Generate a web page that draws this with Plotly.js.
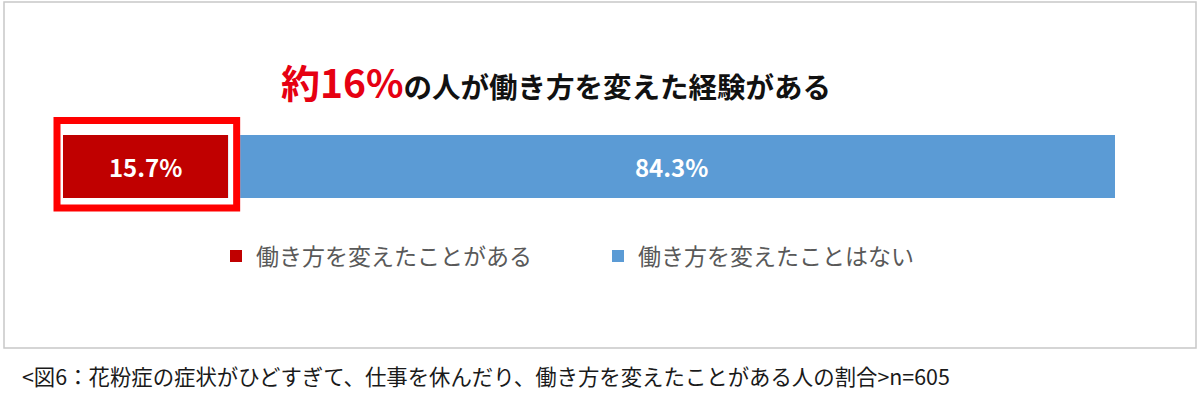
<!DOCTYPE html>
<html>
<head>
<meta charset="utf-8">
<script src="https://cdn.plot.ly/plotly-3.0.1.min.js"></script>
<style>
  body { margin: 0; background: #fff; }
</style>
</head>
<body>
<div id="graphDiv" style="width:1200px;height:404px;"></div>
<script>
// data *********************************************
const category = ['回答'];
const seriesNames = ['働き方を変えたことがある', '働き方を変えたことはない'];
const haveChanged = [15.7];
const neverChanged = [84.3];
const titleRed = '約16%';
const titleRest = 'の人が働き方を変えた経験がある';
const captionText = '<図6：花粉症の症状がひどすぎて、仕事を休んだり、働き方を変えたことがある人の割合>n=605';

const graphDiv = document.getElementById('graphDiv');
const jpFont = '"Noto Sans CJK JP", "Noto Sans", sans-serif';

// plot area goes from x=63 to x=1115 px, full height
const W = 1200, H = 404, L = 63, R = 85;
const plotW = W - L - R;
function px2x(p) { return (p - L) / plotW; }
function px2y(p) { return 1 - p / H; }

// red highlight box, tied to the end of the first bar
const redEnd = haveChanged[0] / 100;   // in paper units
const pxU = 1 / plotW;                 // one pixel in paper units

Plotly.newPlot(
  graphDiv,
  [
    {
      name: seriesNames[0],
      type: 'bar',
      orientation: 'h',
      x: haveChanged,
      y: category,
      marker: {color: '#c00000'},
      texttemplate: '%{x:.1f}%',
      textposition: 'inside',
      insidetextanchor: 'middle',
      textfont: {family: jpFont, size: 24, color: '#ffffff', weight: 'bold'},
      hoverinfo: 'skip'
    },
    {
      name: seriesNames[1],
      type: 'bar',
      orientation: 'h',
      x: neverChanged,
      y: category,
      marker: {color: '#5b9bd5'},
      texttemplate: '%{x:.1f}%',
      textposition: 'inside',
      insidetextanchor: 'middle',
      textfont: {family: jpFont, size: 24, color: '#ffffff', weight: 'bold'},
      hoverinfo: 'skip'
    }
  ],
  {
    width: W,
    height: H,
    margin: {l: L, r: R, t: 0, b: 0, pad: 0},
    paper_bgcolor: '#ffffff',
    plot_bgcolor: 'rgba(0,0,0,0)',
    barmode: 'stack',
    bargap: 0,
    font: {family: jpFont},
    title: {
      text: '<span style="color:#e60012;font-size:39px">' + titleRed + '</span>' + titleRest,
      font: {family: jpFont, size: 28.5, color: '#111111', weight: 'bold'},
      xref: 'container', yref: 'container',
      x: 556 / W, y: 1 - 88 / H,
      xanchor: 'center', yanchor: 'middle'
    },
    xaxis: {
      range: [0, 100],
      visible: false,
      fixedrange: true
    },
    yaxis: {
      domain: [px2y(198), px2y(135)],
      range: [-0.5, 0.5],
      visible: false,
      fixedrange: true
    },
    showlegend: true,
    legend: {
      orientation: 'h',
      x: px2x(216),
      y: px2y(256),
      xanchor: 'left',
      yanchor: 'middle',
      entrywidth: 337,
      traceorder: 'normal',
      font: {family: jpFont, size: 23, color: '#595959'},
      bgcolor: 'rgba(0,0,0,0)'
    },
    shapes: [
      // outer frame
      {
        type: 'rect', xref: 'paper', yref: 'paper',
        x0: px2x(4), x1: px2x(1196), y0: px2y(348), y1: px2y(2),
        line: {color: '#c8c8c8', width: 1.5},
        layer: 'below'
      },
      // white gap between the first bar and the highlight box
      {
        type: 'rect', xref: 'paper', yref: 'paper',
        x0: redEnd, x1: redEnd + 12 * pxU, y0: px2y(212), y1: px2y(117),
        fillcolor: '#ffffff',
        line: {width: 0}
      },
      // red highlight box around the first bar
      {
        type: 'rect', xref: 'paper', yref: 'paper',
        x0: px2x(57), x1: redEnd + 8.5 * pxU, y0: px2y(208), y1: px2y(120.5),
        line: {color: '#ff0000', width: 7}
      }
    ],
    annotations: [
      {
        text: captionText,
        xref: 'paper', yref: 'paper',
        x: px2x(20), y: px2y(375),
        xanchor: 'left', yanchor: 'middle',
        showarrow: false,
        font: {family: jpFont, size: 21.4, color: '#1a1a1a'}
      }
    ]
  },
  {displayModeBar: false, staticPlot: true}
);
</script>
</body>
</html>
